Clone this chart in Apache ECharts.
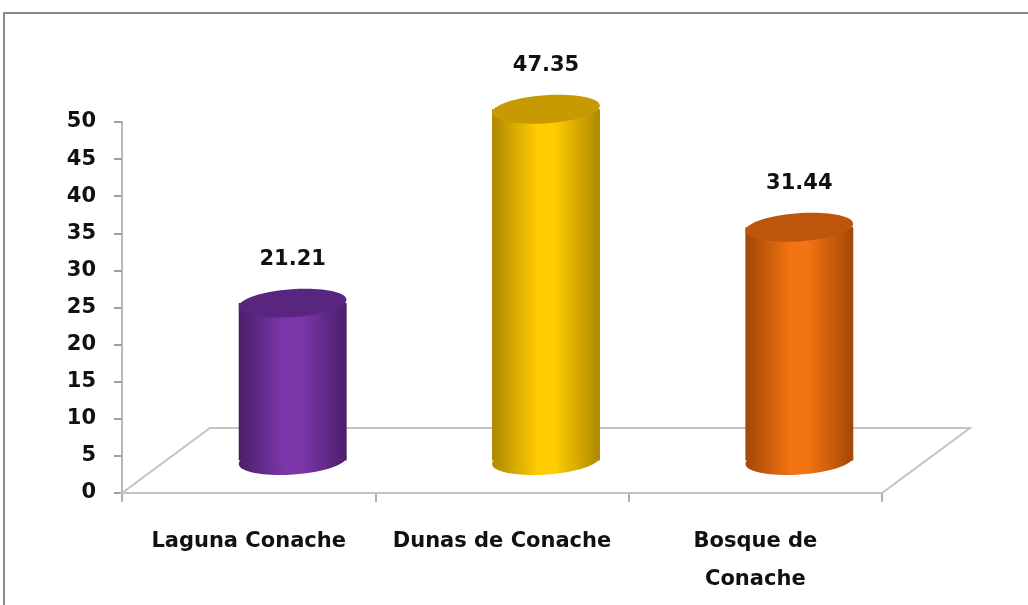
<!DOCTYPE html>
<html>
<head>
<meta charset="utf-8">
<script src="https://cdn.jsdelivr.net/npm/echarts@6/dist/echarts.min.js"></script>
<style>
  html, body { margin: 0; padding: 0; background: #fff; }
  #main { width: 1028px; height: 605px; }
</style>
</head>
<body>
<div id="main"></div>
<script>
// sitios y valores
const categories = ['Laguna Conache', 'Dunas de Conache', 'Bosque de\nConache'];
const values = [21.21, 47.35, 31.44];
const yTicks = [0, 5, 10, 15, 20, 25, 30, 35, 40, 45, 50];

// colores de cada cilindro: [borde oscuro, centro, tapa]
const palette = [
    ['#4a1e6a', '#7b37aa', '#58257f'],
    ['#ad8800', '#ffcc00', '#c69a00'],
    ['#a24706', '#f27412', '#bd560a']
];

const depthX = 88, depthY = -65; // fondo del piso 3D
const font = '"DejaVu Sans", sans-serif';

function renderFloor(params, api) {
    const cs = params.coordSys;
    const x0 = cs.x, x1 = cs.x + cs.width, y0 = cs.y + cs.height;
    return {
        type: 'polygon',
        shape: {
            points: [[x0, y0], [x0 + depthX, y0 + depthY], [x1 + depthX, y0 + depthY], [x1, y0]]
        },
        style: { fill: '#fff', stroke: '#c4c4c4', lineWidth: 2 }
    };
}

function renderCylinder(params, api) {
    const i = api.value(0);
    const v = api.value(1);
    const top = api.coord([i, v]);
    const base = api.coord([i, 0]);
    const band = api.size([1, 0])[0];
    const cx = top[0] + depthX / 2;
    const yTop = top[1] + depthY / 2;
    const yBot = base[1] + depthY / 2;
    const rx = band * 0.213, ry = 14;
    const c = palette[params.dataIndex];
    const grad = {
        type: 'linear', x: 0, y: 0, x2: 1, y2: 0,
        colorStops: [
            { offset: 0, color: c[0] },
            { offset: 0.42, color: c[1] },
            { offset: 0.58, color: c[1] },
            { offset: 1, color: c[0] }
        ]
    };
    return {
        type: 'group',
        children: [
            {
                type: 'ellipse',
                shape: { cx: cx, cy: yBot, rx: rx, ry: ry },
                rotation: 0.07, originX: cx, originY: yBot,
                style: { fill: grad }
            },
            {
                type: 'rect',
                shape: { x: cx - rx, y: yTop, width: rx * 2, height: yBot - yTop },
                style: { fill: grad }
            },
            {
                type: 'ellipse',
                shape: { cx: cx, cy: yTop, rx: rx, ry: ry },
                rotation: 0.07, originX: cx, originY: yTop,
                style: { fill: c[2] }
            },
            {
                type: 'text',
                x: cx, y: yTop - 44,
                style: {
                    text: values[params.dataIndex].toFixed(2),
                    fill: '#111', font: 'bold 21px ' + font,
                    align: 'center', verticalAlign: 'middle'
                }
            }
        ]
    };
}

const option = {
    animation: false,
    backgroundColor: '#fff',
    grid: { left: 122, right: 146, top: 122, bottom: 112 },
    graphic: [{
        type: 'rect',
        shape: { x: 4, y: 13, width: 1200, height: 800 },
        style: { fill: 'none', stroke: '#8a8a8a', lineWidth: 2 },
        z: 0
    }],
    xAxis: {
        type: 'category',
        data: categories,
        axisLine: { show: false },
        axisTick: { show: true, interval: 0, length: 9, lineStyle: { color: '#b0b0b0', width: 2 } },
        axisLabel: {
            interval: 0, margin: 30, color: '#111', fontWeight: 'bold', fontSize: 21,
            fontFamily: font, lineHeight: 38
        }
    },
    yAxis: {
        type: 'value',
        min: yTicks[0], max: yTicks[yTicks.length - 1], interval: 5,
        axisLine: { show: true, lineStyle: { color: '#b8b8b8', width: 2 } },
        axisTick: { show: true, length: 8, lineStyle: { color: '#a0a0a0', width: 2 } },
        splitLine: { show: false },
        axisLabel: {
            margin: 26, color: '#111', fontWeight: 'bold', fontSize: 21, fontFamily: font
        }
    },
    series: [
        {
            type: 'custom',
            renderItem: renderFloor,
            data: [0],
            z: 1,
            silent: true
        },
        {
            type: 'custom',
            renderItem: renderCylinder,
            data: values.map((v, i) => [i, v]),
            encode: { x: 0, y: 1 },
            z: 3
        }
    ]
};

const chart = echarts.init(document.getElementById('main'));
chart.setOption(option);
</script>
</body>
</html>
